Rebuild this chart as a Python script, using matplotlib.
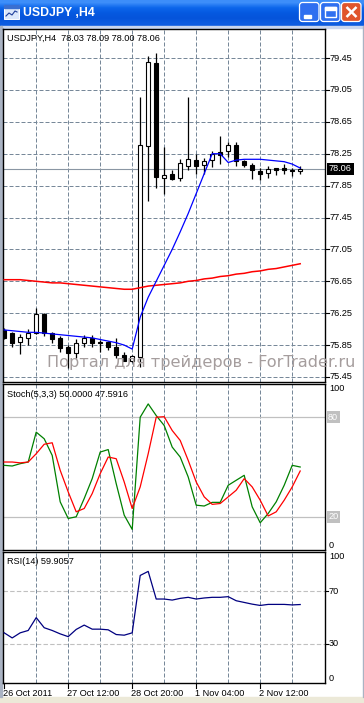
import numpy as np
import matplotlib.pyplot as plt
from matplotlib.patches import Rectangle, FancyBboxPatch
from matplotlib.transforms import blended_transform_factory

W, H = 364, 703

# H4 bars
opens = [76.04, 76.00, 75.89, 75.94, 76.00, 76.24, 76.00, 75.94, 75.82, 75.75,
         75.88, 75.94, 75.89, 75.89, 75.83, 75.72, 75.65, 75.70, 78.35, 79.39,
         77.95, 77.99, 77.94, 78.10, 78.17, 78.11, 78.17, 78.27, 78.28, 78.36,
         78.16, 78.11, 78.03, 78.01, 78.07, 78.07, 78.05, 78.03]
highs = [76.06, 76.01, 75.99, 76.05, 76.32, 76.25, 76.02, 75.96, 75.85, 75.93,
         75.98, 75.98, 75.91, 75.90, 75.94, 75.76, 75.72, 78.96, 79.48, 79.51,
         78.33, 78.05, 78.18, 78.96, 78.25, 78.19, 78.29, 78.47, 78.40, 78.40,
         78.17, 78.13, 78.07, 78.10, 78.07, 78.12, 78.07, 78.09]
lows = [75.92, 75.83, 75.74, 75.85, 75.99, 75.96, 75.88, 75.76, 75.56, 75.69,
        75.83, 75.83, 75.76, 75.79, 75.69, 75.65, 75.64, 75.58, 77.66, 77.82,
        77.74, 77.92, 77.91, 78.04, 78.00, 78.00, 78.08, 78.12, 78.21, 78.09,
        78.08, 77.93, 77.92, 77.95, 77.98, 78.00, 77.97, 78.00]
closes = [75.94, 75.88, 75.95, 76.00, 76.24, 76.00, 75.92, 75.81, 75.75, 75.88,
          75.94, 75.88, 75.87, 75.83, 75.72, 75.65, 75.71, 78.36, 79.40, 77.96,
          77.98, 77.93, 78.13, 78.18, 78.10, 78.16, 78.25, 78.24, 78.36, 78.16,
          78.11, 78.04, 78.00, 78.06, 78.05, 78.05, 78.03, 78.06]

ma_fast = [76.04, 76.03, 76.02, 76.01, 76.01, 76.00, 75.99, 75.98, 75.97, 75.96,
           75.95, 75.94, 75.92, 75.90, 75.88, 75.85, 75.80, 76.20, 76.45, 76.65,
           76.85, 77.05, 77.27, 77.50, 77.75, 78.00, 78.25, 78.25, 78.14, 78.17,
           78.18, 78.18, 78.18, 78.17, 78.16, 78.15, 78.12, 78.07]
ma_slow = [76.67, 76.67, 76.67, 76.66, 76.65, 76.64, 76.63, 76.63, 76.62, 76.61,
           76.60, 76.59, 76.58, 76.57, 76.56, 76.55, 76.55, 76.57, 76.59, 76.60,
           76.61, 76.62, 76.63, 76.65, 76.66, 76.68, 76.69, 76.71, 76.72, 76.74,
           76.75, 76.77, 76.78, 76.80, 76.81, 76.83, 76.85, 76.87]

stoch_k = [51, 50.6, 52, 53, 71, 67, 57, 29, 19, 20,
           31, 43, 59, 60.5, 40, 21, 12.4, 80, 88, 81,
           75, 62, 56, 44, 27, 26.5, 28.7, 28.7, 39, 42,
           45, 26, 16.4, 22, 29, 39, 51, 50]
stoch_d = [53, 53, 52.5, 53, 58, 63.7, 64.6, 48, 35, 23,
           25, 34, 46, 56, 55, 41, 25, 38, 58, 80,
           80.3, 72, 66, 54, 41, 32, 27.5, 28, 32, 36,
           43, 38, 30, 20.5, 23, 30, 38, 47.59]
rsi = [38.3, 34.4, 38.3, 40.1, 49.9, 42.2, 40.1, 37.5, 35.4, 40.9,
       44.2, 41.1, 41.1, 40.6, 37.0, 36.5, 38.3, 82.1, 85.2, 64.1,
       64.1, 63.3, 64.6, 65.4, 64.1, 64.9, 65.4, 65.4, 65.9, 62.8,
       61.5, 60.2, 59.2, 60.0, 60.0, 60.0, 59.6, 59.9]

price_ticks = [75.45, 75.85, 76.25, 76.65, 77.05, 77.45, 77.85, 78.25, 78.65, 79.05, 79.45]
last_price = 78.06
date_bars = [0, 8, 16, 24, 32]
date_labels = ['26 Oct 2011', '27 Oct 12:00', '28 Oct 20:00', '1 Nov 04:00', '2 Nov 12:00']
grid_bars = [4, 8, 12, 16, 20, 24, 28, 32, 36]

FONT = ['Liberation Sans', 'DejaVu Sans']
GRID = '#778899'
x = np.arange(len(closes))


def box(x0, y0, x1, y1):
    return [x0 / W, 1 - y1 / H, (x1 - x0) / W, (y1 - y0) / H]


def fy(py):
    return 1 - py / H


fig = plt.figure(figsize=(W / 100, H / 100), dpi=100, facecolor='white')

# window chrome
bg = fig.add_axes([0, 0, 1, 1], zorder=-5)
grad = np.array([[0.24, 0.56, 0.98], [0.05, 0.40, 0.92], [0.02, 0.35, 0.88],
                 [0.02, 0.33, 0.86], [0.05, 0.36, 0.88]])
bg.imshow(grad[:, None, :], extent=(0, W, 26, 0), aspect='auto', interpolation='bilinear')
bg.add_patch(Rectangle((0, 26), W, 2, color='#c9d6ef'))
bg.add_patch(Rectangle((0, 697), W, 6, color='#ece9d8'))
bg.add_patch(Rectangle((0, 26), 1.5, 671, color='#aab3c3'))
bg.add_patch(Rectangle((362.5, 26), 1.5, 671, color='#aab3c3'))
# icon
bg.add_patch(Rectangle((4, 5), 15, 14, fc='#dbe8fb', ec='white', lw=0.7))
bg.add_patch(Rectangle((4, 5), 15, 3, color='#3a6fd0'))
bg.plot([6, 9, 12, 15, 17], [16, 13, 15, 11, 12], color='#1f3f9a', lw=0.8)
bg.text(23, 13.5, 'USDJPY ,H4', color='white', fontsize=8.8, fontweight='bold',
        family=FONT, va='center', ha='left')
# buttons
for bx, col in [(299.5, '#2f6ff0'), (320.5, '#2f6ff0'), (341.5, '#e0552c')]:
    bg.add_patch(FancyBboxPatch((bx, 2.5), 19.5, 19, boxstyle='round,pad=0,rounding_size=3',
                                fc=col, ec='white', lw=0.9))
bg.add_patch(Rectangle((304, 15), 7, 3, color='white'))
bg.add_patch(Rectangle((325, 7), 11, 10, fc='none', ec='white', lw=1.0))
bg.add_patch(Rectangle((325, 7), 11, 2.5, color='white'))
bg.plot([346.5, 356.5], [7, 17], color='white', lw=1.8, solid_capstyle='butt')
bg.plot([346.5, 356.5], [17, 7], color='white', lw=1.8, solid_capstyle='butt')
bg.set_xlim(0, W)
bg.set_ylim(H, 0)
bg.axis('off')

ax = fig.add_axes(box(3, 29, 325, 382))
ax_s = fig.add_axes(box(3, 384, 325, 550))
ax_r = fig.add_axes(box(3, 552, 325, 683))

for a in (ax, ax_s, ax_r):
    a.set_xlim(-0.15, 40.1)
    a.set_xticks([])
    a.set_yticks([])
    for sp in a.spines.values():
        sp.set_color('black')
        sp.set_linewidth(1.0)
    for g in grid_bars:
        a.axvline(g, color=GRID, lw=0.72, ls=(0, (4, 2)), zorder=1)

# main price chart
ax.set_ylim(75.387, 79.814)
for p in price_ticks:
    ax.axhline(p, color=GRID, lw=0.72, ls=(0, (4, 2)), zorder=1)
ax.axhline(last_price, color='#8a96a3', lw=0.8, zorder=2)

ax.vlines(x, lows, highs, color='black', lw=0.9, zorder=3)
for i in range(len(closes)):
    o, c = opens[i], closes[i]
    h = max(abs(c - o), 0.012)
    fc = 'white' if c >= o else 'black'
    ax.bar(x[i], h, bottom=min(o, c), width=0.5, color=fc, edgecolor='black',
           linewidth=0.8, zorder=4)

ax.plot(x, ma_slow, color='#ff0000', lw=1.1, zorder=5)
ax.plot(x, ma_fast, color='#0000ff', lw=0.9, zorder=5)

tr = blended_transform_factory(fig.transFigure, ax.transData)
for p in price_ticks:
    ax.plot([325 / W, 329 / W], [p, p], color='black', lw=0.8, transform=tr, clip_on=False)
    if abs(p - last_price) > 0.1:
        ax.text(330 / W, p, f'{p:.2f}', transform=tr, fontsize=6.6, family=FONT,
                va='center', ha='left', color='black')
ax.text(329 / W, last_price, f'{last_price:.2f}', transform=tr, fontsize=6.6, family=FONT,
        va='center', ha='left', color='white',
        bbox=dict(boxstyle='square,pad=0.2', fc='black', ec='none'))
fig.text(7 / W, fy(38), 'USDJPY,H4  78.03 78.09 78.00 78.06', fontsize=6.6,
         family=FONT, va='center', ha='left')

# stochastic
ax_s.set_ylim(0, 100)
ax_s.axhline(80, color='#c0c0c0', lw=0.9, zorder=1)
ax_s.axhline(20, color='#c0c0c0', lw=0.9, zorder=1)
ax_s.plot(x, stoch_k, color='#008000', lw=0.9, zorder=3)
ax_s.plot(x, stoch_d, color='#ff0000', lw=0.9, zorder=3)
trs = blended_transform_factory(fig.transFigure, ax_s.transData)
ax_s.text(329 / W, 100, '100', transform=trs, fontsize=6.6, family=FONT, va='top', ha='left')
ax_s.text(329 / W, 0, '0', transform=trs, fontsize=6.6, family=FONT, va='bottom', ha='left')
for lv in (80, 20):
    ax_s.text(328 / W, lv, str(lv), transform=trs, fontsize=6.6, family=FONT,
              va='center', ha='left', color='white',
              bbox=dict(boxstyle='square,pad=0.15', fc='#c0c0c0', ec='none'))
fig.text(7 / W, fy(395), 'Stoch(5,3,3) 50.0000 47.5916', fontsize=6.6,
         family=FONT, va='center', ha='left')

# RSI
ax_r.set_ylim(0, 100)
ax_r.axhline(70, color='#c0c0c0', lw=0.8, ls=(0, (4, 2)), zorder=1)
ax_r.axhline(30, color='#c0c0c0', lw=0.8, ls=(0, (4, 2)), zorder=1)
ax_r.plot(x, rsi, color='#000080', lw=0.9, zorder=3)
trr = blended_transform_factory(fig.transFigure, ax_r.transData)
ax_r.text(329 / W, 100, '100', transform=trr, fontsize=6.6, family=FONT, va='top', ha='left')
ax_r.text(329 / W, 0, '0', transform=trr, fontsize=6.6, family=FONT, va='bottom', ha='left')
for lv in (70, 30):
    ax_r.plot([325 / W, 328 / W], [lv, lv], color='black', lw=0.8, transform=trr, clip_on=False)
    ax_r.text(328.5 / W, lv, str(lv), transform=trr, fontsize=6.6, family=FONT,
              va='center', ha='left')
fig.text(7 / W, fy(562), 'RSI(14) 59.9057', fontsize=6.6, family=FONT, va='center', ha='left')

trd = blended_transform_factory(ax_r.transData, fig.transFigure)
for b, lab in zip(date_bars, date_labels):
    ax_r.plot([b, b], [fy(683), fy(688)], color='black', lw=0.8, transform=trd, clip_on=False)
    ax_r.text(b - 0.1, fy(693), lab, transform=trd, fontsize=6.6, family=FONT,
              va='center', ha='left')

# watermark
fig.text(46.7 / W, fy(367), 'Портал для трейдеров - ForTrader.ru', fontsize=11.6,
         family='DejaVu Sans', color='#a59d9d', va='baseline', ha='left', zorder=10)

fig.savefig('out.png', dpi=100, facecolor='white')
